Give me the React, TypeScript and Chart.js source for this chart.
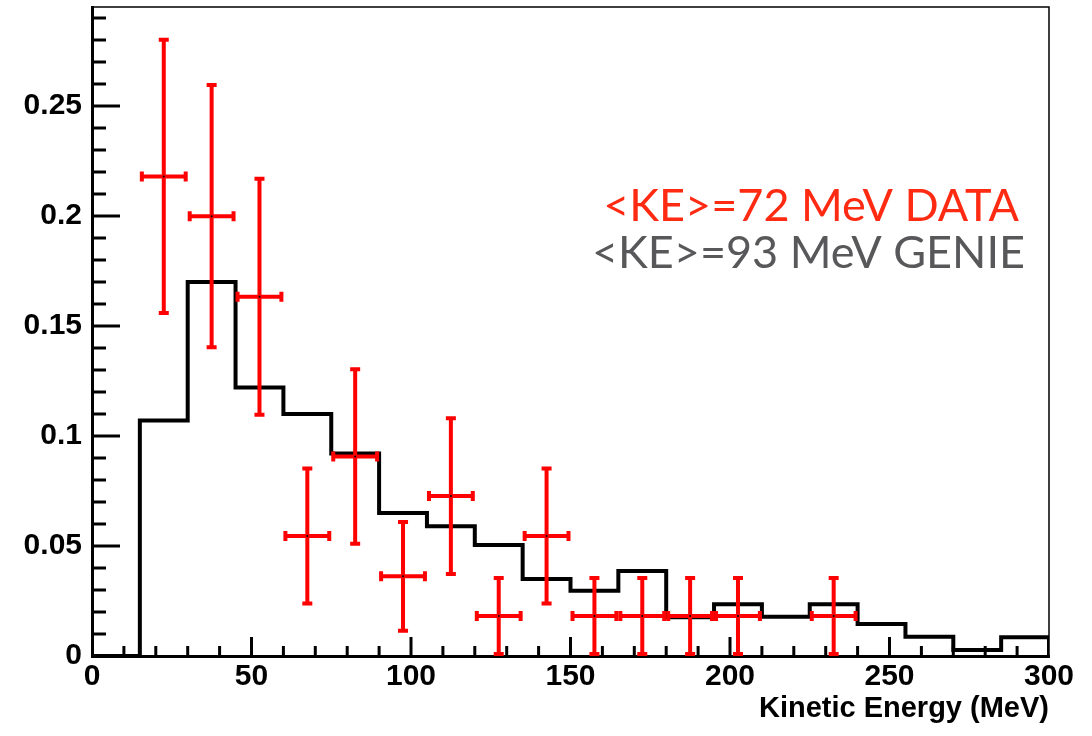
import React, { useEffect, useRef } from "react";
import { Chart, registerables } from "chart.js";

Chart.register(...registerables);

// GENIE histogram: bin edges (MeV) and bin contents
const binEdges = [0, 15, 30, 45, 60, 75, 90, 105, 120, 135, 150, 165, 180, 195, 210, 225, 240, 255, 270, 285, 300];
const genieValues = [0, 0.107, 0.170, 0.122, 0.110, 0.092, 0.065, 0.059, 0.0505, 0.035, 0.0297, 0.0386, 0.0176, 0.0235, 0.0178, 0.0235, 0.0145, 0.0088, 0.0027, 0.0085];

// DATA points: bin centres, values, vertical errors, horizontal half width
const dataCenters = [22.5, 37.5, 52.5, 67.5, 82.5, 97.5, 112.5, 127.5, 142.5, 157.5, 172.5, 187.5, 202.5, 232.5];
const dataValues = [0.218, 0.1999, 0.1633, 0.0545, 0.0907, 0.0362, 0.0727, 0.0182, 0.0545, 0.0182, 0.0182, 0.0182, 0.0182, 0.0182];
const dataErrors = [0.063, 0.0605, 0.0545, 0.0316, 0.0406, 0.0256, 0.0363, 0.0182, 0.0316, 0.0182, 0.0182, 0.0182, 0.0182, 0.0182];
const dataHalfWidth = 7.5;

// Axis ticks
const xTickValues = [0, 50, 100, 150, 200, 250, 300];
const xTickLabels = ["0", "50", "100", "150", "200", "250", "300"];
const yTickValues = [0, 0.05, 0.1, 0.15, 0.2, 0.25];
const yTickLabels = ["0", "0.05", "0.1", "0.15", "0.2", "0.25"];
const xMinorStep = 10;
const yMinorStep = 0.01;
const xMax = 300;
const yMax = 0.295;

const xTitle = "Kinetic Energy (MeV)";
const legendLines = ["<KE>=72 MeV DATA", "<KE>=93 MeV GENIE"];
const legendColors = ["#ff2a12", "#58585a"];

const AXIS_FONT = "'Liberation Sans', Arial, Helvetica, sans-serif";

const framePlugin = {
  id: "rootFrame",
  afterDatasetDraw(chart: any, args: any) {
    if (args.index !== 1) return;
    // error bars drawn after histogram, before centre dots
    const { ctx, scales } = chart;
    const xs = scales.x;
    const ys = scales.y;
    ctx.save();
    ctx.strokeStyle = "#ff0000";
    ctx.lineWidth = 4;
    ctx.lineCap = "butt";
    const cap = 5;
    for (let i = 0; i < dataCenters.length; i++) {
      const px = xs.getPixelForValue(dataCenters[i]);
      const py = ys.getPixelForValue(dataValues[i]);
      const xl = xs.getPixelForValue(dataCenters[i] - dataHalfWidth);
      const xr = xs.getPixelForValue(dataCenters[i] + dataHalfWidth);
      const yt = ys.getPixelForValue(dataValues[i] + dataErrors[i]);
      const yb = ys.getPixelForValue(dataValues[i] - dataErrors[i]);
      ctx.beginPath();
      ctx.moveTo(xl, py);
      ctx.lineTo(xr, py);
      ctx.moveTo(px, yt);
      ctx.lineTo(px, yb);
      // caps
      ctx.moveTo(xl + 2, py - cap);
      ctx.lineTo(xl + 2, py + cap);
      ctx.moveTo(xr - 2, py - cap);
      ctx.lineTo(xr - 2, py + cap);
      ctx.moveTo(px - cap, yt + 2);
      ctx.lineTo(px + cap, yt + 2);
      ctx.moveTo(px - cap, yb - 2);
      ctx.lineTo(px + cap, yb - 2);
      ctx.stroke();
    }
    ctx.restore();
  },
  afterDraw(chart: any) {
    const { ctx, chartArea, scales } = chart;
    const xs = scales.x;
    const ys = scales.y;
    const { left, right, top, bottom } = chartArea;
    ctx.save();
    // thin top and right frame
    ctx.strokeStyle = "#000";
    ctx.lineWidth = 1.5;
    ctx.beginPath();
    ctx.moveTo(left, top);
    ctx.lineTo(right, top);
    ctx.lineTo(right, bottom);
    ctx.stroke();
    // inward ticks
    ctx.lineWidth = 3;
    ctx.beginPath();
    const nx = Math.round(xMax / xMinorStep);
    for (let i = 1; i < nx; i++) {
      const v = i * xMinorStep;
      const px = xs.getPixelForValue(v);
      const len = i % 5 === 0 ? 19 : 10;
      ctx.moveTo(px, bottom);
      ctx.lineTo(px, bottom - len);
    }
    const ny = Math.floor(yMax / yMinorStep + 1e-9);
    for (let i = 1; i <= ny; i++) {
      const v = i * yMinorStep;
      const py = ys.getPixelForValue(v);
      const len = i % 5 === 0 ? 28 : 14;
      ctx.moveTo(left, py);
      ctx.lineTo(left + len, py);
    }
    ctx.stroke();
    // legend text
    ctx.textAlign = "right";
    ctx.textBaseline = "alphabetic";
    ctx.font = "400 45px Lato, 'Open Sans', sans-serif";
    ctx.fillStyle = legendColors[0];
    ctx.fillText(legendLines[0], 1019, 221);
    ctx.fillStyle = legendColors[1];
    ctx.fillText(legendLines[1], 1025, 268);
    ctx.restore();
  },
};

export default function App() {
  const canvasRef = useRef<HTMLCanvasElement | null>(null);

  useEffect(() => {
    if (!canvasRef.current) return;
    const histPoints = binEdges.slice(0, -1).map((e, i) => ({ x: e, y: genieValues[i] }));
    histPoints.push({ x: binEdges[binEdges.length - 1], y: 0 });
    const dataPoints = dataCenters.map((c, i) => ({ x: c, y: dataValues[i] }));

    const chart = new Chart(canvasRef.current, {
      type: "line",
      data: {
        datasets: [
          {
            type: "scatter",
            label: "DATA",
            data: dataPoints,
            pointRadius: 1,
            pointBackgroundColor: "#000",
            pointBorderWidth: 0,
            showLine: false,
          } as any,
          {
            type: "line",
            label: "GENIE",
            data: histPoints,
            stepped: "before",
            borderColor: "#000",
            borderWidth: 4,
            borderJoinStyle: "miter",
            pointRadius: 0,
            fill: false,
          } as any,
        ],
      },
      options: {
        animation: false,
        responsive: false,
        devicePixelRatio: 1,
        layout: { padding: { top: 7, right: 43, left: 0, bottom: 0 } },
        plugins: { legend: { display: false }, tooltip: { enabled: false } },
        scales: {
          x: {
            type: "linear",
            min: 0,
            max: xMax,
            grid: { display: false, drawTicks: false },
            border: { display: true, color: "#000", width: 3 },
            afterBuildTicks: (scale: any) => {
              scale.ticks = xTickValues.map((v) => ({ value: v }));
            },
            afterFit: (scale: any) => {
              scale.height = 80;
              scale.paddingLeft = 0;
              scale.paddingRight = 0;
            },
            ticks: {
              autoSkip: false,
              maxRotation: 0,
              padding: 3,
              color: "#000",
              font: { family: AXIS_FONT, weight: "bold", size: 30 },
              callback: (_v: any, i: number) => xTickLabels[i],
            },
            title: {
              display: true,
              text: xTitle,
              align: "end",
              color: "#000",
              font: { family: AXIS_FONT, weight: "bold", size: 29 },
              padding: { top: 0, bottom: 10 },
            },
          },
          y: {
            type: "linear",
            min: 0,
            max: yMax,
            grid: { display: false, drawTicks: false },
            border: { display: true, color: "#000", width: 3 },
            afterBuildTicks: (scale: any) => {
              scale.ticks = yTickValues.map((v) => ({ value: v }));
            },
            afterFit: (scale: any) => {
              scale.width = 92;
              scale.paddingTop = 0;
              scale.paddingBottom = 0;
            },
            ticks: {
              autoSkip: false,
              padding: 10,
              color: "#000",
              font: { family: AXIS_FONT, weight: "bold", size: 30 },
              callback: (_v: any, i: number) => yTickLabels[i],
            },
          },
        },
      },
      plugins: [framePlugin],
    });
    return () => chart.destroy();
  }, []);

  return (
    <div style={{ position: "absolute", left: 0, top: 0, width: 1092, height: 736, background: "#fff" }}>
      <canvas ref={canvasRef} width={1092} height={736} />
    </div>
  );
}
